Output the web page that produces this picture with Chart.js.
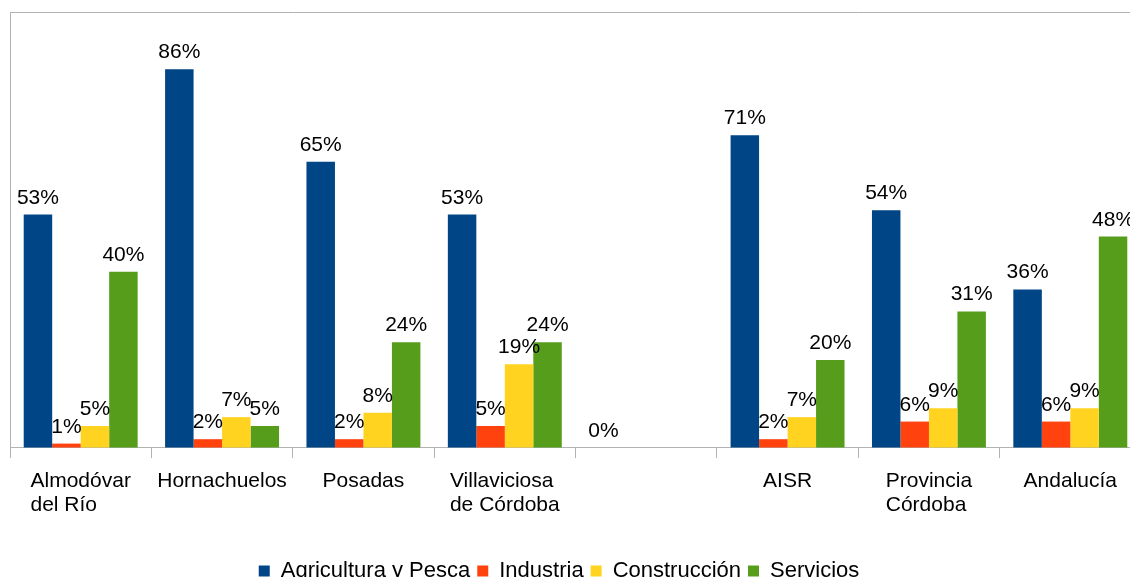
<!DOCTYPE html>
<html>
<head>
<meta charset="utf-8">
<script src="https://cdn.jsdelivr.net/npm/chart.js@4"></script>
<style>
    html, body { margin: 0; padding: 0; background: #fff; overflow: hidden; }
    #wrap { width: 1145px; height: 592px; position: relative; }
</style>
</head>
<body>
<div id="wrap"><canvas id="sector-chart"></canvas></div>
<script>
const categories = [['Almodóvar', 'del Río'], 'Hornachuelos', 'Posadas', ['Villaviciosa', 'de Córdoba'], '', 'AISR', ['Provincia', 'Córdoba'], 'Andalucía'];
const seriesNames = ['Agricultura y Pesca', 'Industria', 'Construcción', 'Servicios'];
const agricultura = [53, 86, 65, 53, 0, 71, 54, 36];
const industria = [1, 2, 2, 5, null, 2, 6, 6];
const construccion = [5, 7, 8, 19, null, 7, 9, 9];
const servicios = [40, 5, 24, 24, null, 20, 31, 48];
const colors = ['#004586', '#ff420e', '#ffd320', '#579d1c'];

const yMax = 99;
const lineGray = '#b3b3b3';
Chart.defaults.font.family = '"Liberation Sans", Arial, sans-serif';
Chart.defaults.color = '#000';

// value labels above each bar
const barLabels = {
    id: 'barLabels',
    afterDatasetsDraw(chart) {
        const ctx = chart.ctx;
        ctx.save();
        ctx.font = '21px "Liberation Sans"';
        ctx.fillStyle = '#000';
        ctx.textAlign = 'center';
        ctx.textBaseline = 'alphabetic';
        chart.data.datasets.forEach((ds, i) => {
            const meta = chart.getDatasetMeta(i);
            meta.data.forEach((bar, j) => {
                const v = ds.data[j];
                if (v === null) return;
                ctx.fillText(v + '%', bar.x, bar.y - 11);
            });
        });
        ctx.restore();
    }
};

// category labels, lines left aligned inside a centred block
const categoryLabels = {
    id: 'categoryLabels',
    afterDraw(chart) {
        const ctx = chart.ctx;
        const xs = chart.scales.x;
        ctx.save();
        ctx.font = '21px "Liberation Sans"';
        ctx.fillStyle = '#000';
        ctx.textAlign = 'left';
        ctx.textBaseline = 'alphabetic';
        categories.forEach((lab, i) => {
            const lines = Array.isArray(lab) ? lab : [lab];
            const w = Math.max(...lines.map(l => ctx.measureText(l).width));
            const x0 = xs.getPixelForValue(i) - w / 2;
            lines.forEach((l, k) => ctx.fillText(l, x0, xs.top + 39 + k * 24));
        });
        ctx.restore();
    }
};

// the legend sits a little left of the plot centre
const legendShift = {
    id: 'legendShift',
    afterLayout(chart) {
        chart.legend.right -= 33;
    }
};

const ctx = document.getElementById('sector-chart');
new Chart(ctx, {
    type: 'bar',
    data: {
        labels: categories,
        datasets: [
            { label: seriesNames[0], data: agricultura, backgroundColor: colors[0] },
            { label: seriesNames[1], data: industria, backgroundColor: colors[1] },
            { label: seriesNames[2], data: construccion, backgroundColor: colors[2] },
            { label: seriesNames[3], data: servicios, backgroundColor: colors[3] }
        ]
    },
    options: {
        responsive: true,
        maintainAspectRatio: false,
        animation: false,
        datasets: {
            bar: { barPercentage: 1, categoryPercentage: 0.806, borderWidth: 0 }
        },
        layout: { padding: { left: 10, right: 4, top: 12, bottom: 0 } },
        scales: {
            x: {
                grid: {
                    offset: true,
                    drawOnChartArea: false,
                    tickLength: 10,
                    color: lineGray
                },
                border: { color: lineGray },
                ticks: {
                    // invisible, only reserves the room; the labels are drawn by categoryLabels
                    color: 'rgba(0,0,0,0)',
                    font: { size: 21, lineHeight: 2.262 },
                    padding: 0,
                    maxRotation: 0,
                    autoSkip: false
                }
            },
            y: {
                min: 0,
                max: yMax,
                ticks: { display: false, stepSize: yMax },
                grid: {
                    drawTicks: false,
                    color: (c) => (c.tick && c.tick.value === yMax ? lineGray : 'rgba(0,0,0,0)')
                },
                border: { color: lineGray }
            }
        },
        plugins: {
            legend: {
                position: 'bottom',
                labels: {
                    boxWidth: 11,
                    boxHeight: 11,
                    padding: 7,
                    font: { size: 22 }
                }
            },
            tooltip: { enabled: false }
        }
    },
    plugins: [barLabels, categoryLabels, legendShift]
});
</script>
</body>
</html>
